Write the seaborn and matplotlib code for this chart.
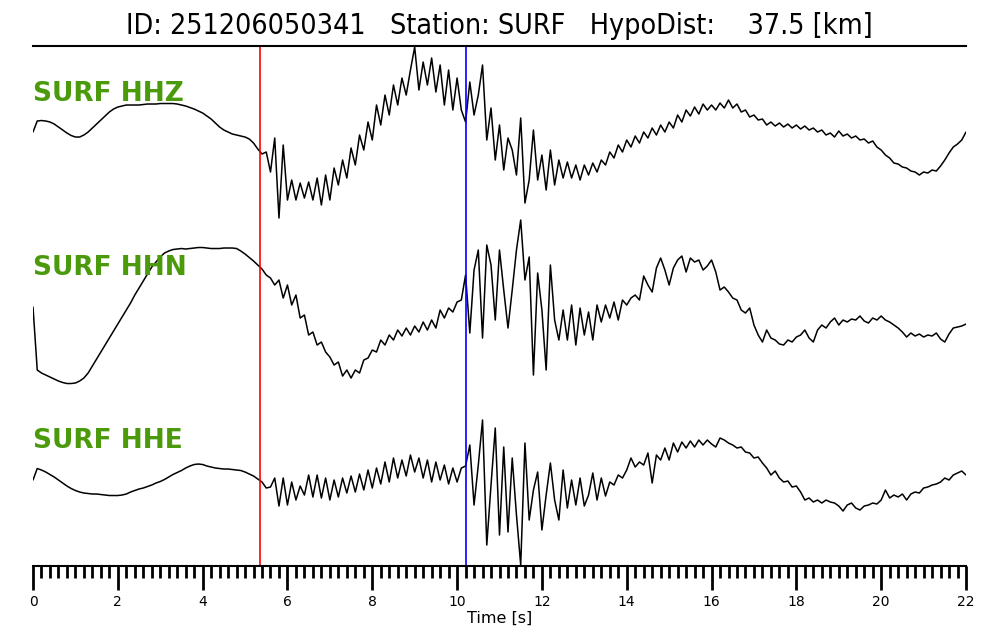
import numpy as np
import pandas as pd
import matplotlib
matplotlib.use("Agg")
import matplotlib.pyplot as plt
from matplotlib.ticker import MultipleLocator
import seaborn as sns

# ---- data (amplitudes, one row = one second, dt = 0.1 s) ----
dt = 0.1
event_id = "251206050341"
station = "SURF"
hypo_dist = 37.5
t_p = 5.35   # red pick
t_s = 10.21  # blue pick

hhz = [
    3, 14, 14.5, 14, 13, 11, 8, 5, 2, -0.5,
    -2, -2, 0, 3, 7, 11, 15, 19, 23, 26,
    28, 29, 30, 30, 30, 30, 30.5, 31, 31, 31,
    31.5, 31.5, 31.5, 31.5, 31, 30, 29, 27.5, 26, 24,
    22, 19, 16, 12, 8, 5, 3, 1, 0, -1,
    -2, -4, -8, -14, -19, -17, -37, -3, -83, -10,
    -65, -45, -65, -48, -63, -47, -65, -43, -70, -40,
    -65, -33, -50, -25, -43, -13, -30, 0, -15, 13,
    -5, 30, 10, 40, 20, 50, 30, 57, 40, 65,
    88, 45, 73, 50, 77, 43, 70, 30, 65, 25,
    57, 25, 13, 53, 20, 40, 70, -5, 27, -25,
    10, -35, -3, -15, -40, 17, -68, -45, 5, -45,
    -20, -55, -15, -50, -25, -43, -27, -43, -30, -45,
    -30, -40, -28, -37, -25, -30, -17, -23, -10, -17,
    -5, -12, -1, -8, 3, -3, 7, 0, 10, 3,
    13, 7, 20, 13, 25, 19, 28, 21, 31, 25,
    30, 25, 32, 27, 35, 27, 31, 23, 25, 18,
    20, 15, 16, 10, 13, 9, 12, 8, 11, 7,
    10, 6, 9, 5, 7, 3, 5, 0, 2, -2,
    4, -1, 1, -3, -1, -5, -4, -8, -6, -12,
    -15, -20, -23, -28, -29, -32, -33, -36, -37, -40,
    -37, -38, -35, -36, -31, -25, -18, -12, -9, -5,
    3,
]

hhn = [
    3, -60, -63, -65, -67, -69, -71, -72.5, -73.5, -73.5,
    -73, -71, -68, -63, -56, -49, -42, -35, -28, -21,
    -14, -7, 0, 7, 15, 22, 29, 36, 43, 48,
    53, 57, 59, 60.5, 61, 61.5, 61, 61.5, 62, 62.5,
    62.5, 62, 61.5, 61.5, 61.5, 62, 62, 62, 61.5, 59,
    56, 52.5, 49, 45, 41, 35, 32, 25, 30, 12,
    25, 5, 15, -8, -5, -25, -22, -35, -32, -42,
    -47, -55, -52, -66, -60, -68, -60, -63, -50, -48,
    -40, -42, -30, -35, -25, -30, -20, -26, -18, -25,
    -16, -22, -12, -20, -10, -18, 0, -8, 2, -2,
    8, 10, 35, -23, 40, 60, -28, 65, 45, -10,
    60, 20, -18, 20, 60, 90, 30, 53, -65, 37,
    0, -60, 45, -10, -30, 0, -30, 5, -35, 2,
    -25, -2, -30, 5, -12, 5, -8, 8, -10, 10,
    5, 12, 15, 10, 34, 25, 18, 42, 52, 40,
    25, 42, 50, 54, 38, 52, 48, 50, 40, 44,
    50, 38, 20, 23, 18, 12, 10, 0, -3, 2,
    -15, -25, -32, -20, -28, -30, -34, -35, -30, -32,
    -27, -25, -20, -28, -32, -20, -15, -18, -12, -8,
    -15, -10, -12, -9, -10, -6, -11, -13, -8, -10,
    -6, -10, -12, -15, -18, -22, -27, -23, -26, -24,
    -27, -25, -26, -23, -29, -32, -24, -18, -17, -16,
    -14,
]

hhe = [
    5, 16.5, 15, 13, 10.5, 8, 5, 2, -1, -3.5,
    -5.5, -7, -8, -8.5, -9, -9, -9.5, -10, -10.5, -10.5,
    -10.5, -10, -9, -7, -5.5, -4, -3, -1.5, 0, 2,
    3.5, 5.5, 8, 10.5, 12.5, 14.5, 17, 19, 20.5, 21,
    20.5, 19, 18, 17, 16.5, 16, 16, 15.5, 15, 14.5,
    13, 11, 9, 6, 3, -3, -2, 7, -21, 7,
    -20, 3, -15, -1, -10, 10, -12, 10, -13, 7,
    -15, 5, -12, 7, -8, 9, -7, 11, -5, 15,
    -3, 17, 1, 23, 3, 27, 7, 25, 9, 30,
    13, 27, 7, 25, 3, 23, 5, 20, 1, 17,
    3, 17, 19, 40, -20, 20, 65, -60, 0, 57,
    -50, 38, -47, 27, -30, -80, 42, -35, -5, 13,
    -45, -10, 22, -15, -35, 15, -23, 5, -20, 7,
    -21, -10, 12, -15, 7, -11, 3, 0, 10, 7,
    15, 27, 18, 23, 20, 32, 2, 30, 25, 37,
    25, 42, 33, 43, 37, 44, 38, 45, 40, 45,
    41, 38, 47, 45, 42, 40, 37, 38, 33, 32,
    27, 28, 22, 17, 10, 14, 7, 3, 4, -2,
    -1, -7, -15, -13, -17, -15, -18, -15, -17, -18,
    -21, -26, -20, -18, -23, -25, -21, -20, -18, -19,
    -15, -5, -13, -10, -12, -9, -15, -9, -7, -8,
    -3, -2, 0, 1, 3, 7, 5, 10, 12, 14,
    10,
]

channels = ["HHZ", "HHN", "HHE"]
traces = [hhz, hhn, hhe]
for c, tr in zip(channels, traces):
    assert len(tr) == 221, (c, len(tr))

# vertical position of each trace inside the panel
offsets = {"HHZ": 431, "HHN": 256, "HHE": 81}
label_y = {"HHZ": 465, "HHN": 291, "HHE": 118}

rows = []
for c, tr in zip(channels, traces):
    t = np.arange(len(tr)) * dt
    rows.append(pd.DataFrame({"time": t, "amp": np.array(tr) + offsets[c], "channel": c}))
df = pd.concat(rows, ignore_index=True)

# ---- plot ----
sns.set_style("white")
plt.rcParams["font.family"] = ["DejaVu Sans"]
plt.rcParams["text.color"] = "black"
plt.rcParams["axes.labelcolor"] = "black"
plt.rcParams["xtick.color"] = "black"

fig = plt.figure(figsize=(10, 6.4), dpi=100)
ax = fig.add_axes([0.033, 0.1156, 0.933, 0.8125])

sns.lineplot(data=df, x="time", y="amp", hue="channel", units="channel",
             estimator=None, sort=False, palette=["black"] * 3,
             linewidth=1.1, legend=False, ax=ax)

ax.axvline(t_p, color="red", lw=1.2)
ax.axvline(t_s, color="blue", lw=1.2)

for c in channels:
    ax.text(0, label_y[c], f"{station} {c}", color="#4a9a0c",
            fontsize=19, fontweight="bold", va="baseline", ha="left")

ax.set_xlim(0, 22)
ax.set_ylim(0, 520)
ax.set_yticks([])
ax.set_ylabel("")
ax.xaxis.set_major_locator(MultipleLocator(2))
ax.xaxis.set_minor_locator(MultipleLocator(0.2))
ax.tick_params(axis="x", which="major", direction="out", length=17, width=2,
               labelsize=10, pad=4, bottom=True, colors="black")
ax.tick_params(axis="x", which="minor", direction="out", length=8.5, width=2,
               bottom=True, colors="black")
ax.set_xlabel("Time [s]", fontsize=11.5, labelpad=1, color="black")

for side in ["left", "right"]:
    ax.spines[side].set_visible(False)
for side in ["top", "bottom"]:
    ax.spines[side].set_visible(True)
    ax.spines[side].set_color("black")
    ax.spines[side].set_linewidth(1.5)

ax.set_title(f"ID: {event_id}   Station: {station}   HypoDist:    {hypo_dist} [km]",
             fontsize=20.5, fontstretch="condensed", pad=9, color="black")

fig.savefig("out.png", dpi=100)
